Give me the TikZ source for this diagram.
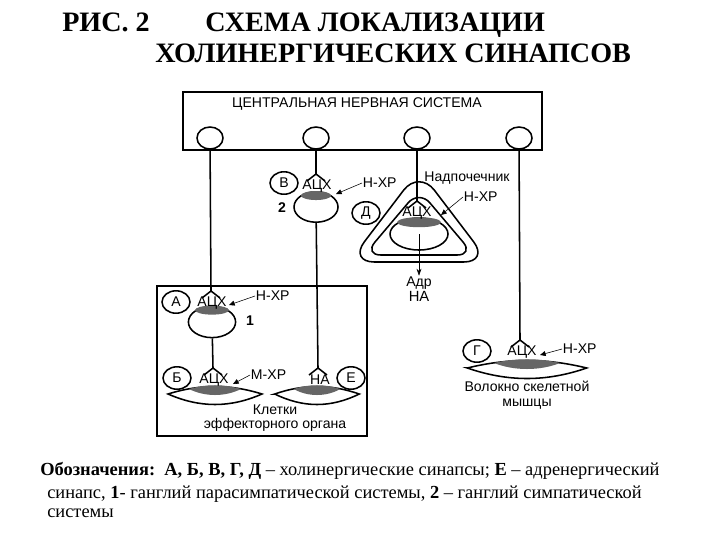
\documentclass[tikz,border=0pt]{standalone}
\usepackage{fontspec}
\setmainfont{Liberation Serif}
\newfontfamily\schemefont{Liberation Sans}
\usetikzlibrary{shapes.geometric,arrows.meta,positioning,calc}

\tikzset{
  title/.style={font=\bfseries\fontsize{20}{22}\selectfont, inner sep=0pt},
  legend/.style={font=\fontsize{13.1}{15}\selectfont, inner sep=0pt},
  txt/.style={font=\schemefont\fontsize{10}{10.3}\selectfont, inner sep=0.5pt},
  neuron/.style={draw, line width=1.1pt, ellipse, minimum width=0.65cm, minimum height=0.55cm, inner sep=0pt, fill=white},
  syncirc/.style={draw, line width=1.1pt, ellipse, minimum width=0.7cm, minimum height=0.56cm, inner sep=0pt, font=\schemefont\fontsize{10}{11}\selectfont},
  ganglion/.style={draw, line width=1.1pt, ellipse, inner sep=0pt, fill=white},
  receptor/.style={-{Triangle[length=4pt,width=3.5pt]}},
  shade/.style={fill=black!60},
  nerve/.style={line width=1.1pt},
  lens/.pic={
    \draw[line width=1.1pt, fill=white] (-47,0) .. controls (-15,-10) and (15,-10) .. (47,0)
      .. controls (15,14) and (-15,14) .. cycle;
    \fill[shade] (-26,-5) .. controls (-10,-10) and (10,-10) .. (26,-5)
      .. controls (10,3) and (-10,3) .. cycle;
  }
}

\begin{document}
\begin{tikzpicture}[x=0.025cm, y=-0.025cm]
\useasboundingbox (0,0) rectangle (720,540);

% Title
\node[title, anchor=base west] (fig) at (62,31) {РИС. 2};
\node[title, anchor=base west] (head1) at (205,31) {СХЕМА ЛОКАЛИЗАЦИИ};
\node[title, anchor=base west] (head2) at (155,62) {ХОЛИНЕРГИЧЕСКИХ СИНАПСОВ};

% Central nervous system
\draw[line width=1.1pt] (183,92) rectangle (542,150);
\node[txt] (cns) at (357,104) {ЦЕНТРАЛЬНАЯ НЕРВНАЯ СИСТЕМА};
\node[neuron] (c1) at (210,138) {};
\node[neuron] (c2) at (316,138) {};
\node[neuron] (c3) at (417,138) {};
\node[neuron] (c4) at (519,138) {};

% Effector organ box
\draw[thick] (157,286) rectangle (367,436);

% Nerve endings
\coordinate (tA) at (211,291);
\coordinate (tB) at (213,368);
\coordinate (tV) at (316,174);
\coordinate (tE) at (318,368);
\coordinate (tD) at (417,201);
\coordinate (tG) at (520,340);

% Ganglia
\node[ganglion, minimum width=1.18cm, minimum height=0.78cm] (g1) at (212,322) {};
\fill[shade] ($(g1.north)+(0,4.5)$) ellipse [x radius=17, y radius=4.5];
\node[ganglion, minimum width=1.1cm, minimum height=0.76cm] (g2) at (316,207) {};
\fill[shade] ($(g2.north)+(0,4.5)$) ellipse [x radius=15, y radius=4.5];
\node[txt, font=\schemefont\bfseries\fontsize{10}{11}\selectfont] (n1) at (250,321) {1};
\node[txt, font=\schemefont\bfseries\fontsize{10}{11}\selectfont] (n2) at (282,208) {2};

% Adrenal gland
\draw[line width=1.1pt, rounded corners=18] (419,170) -- (489,262) -- (349,262) -- cycle;
\draw[line width=1.1pt, rounded corners=12] (419,190) -- (474,255) -- (364,255) -- cycle;
\node[ganglion, minimum width=1.45cm, minimum height=0.8cm] (chrom) at (419,234) {};
\fill[shade] ($(chrom.north)+(0,5)$) ellipse [x radius=22, y radius=5];
\node[txt] (nadp) at (467,178) {Надпочечник};
\node[txt] (adr) at (419,283) {Адр};
\node[txt, font=\schemefont\fontsize{10.5}{11}\selectfont] (na) at (419,296) {НА};
\draw[-{Stealth[length=5pt,width=3.5pt]}] (chrom.center) -- (adr.north);

% Target cells
\coordinate (cellB) at (215,394);
\coordinate (cellE) at (317,394);
\coordinate (fibre) at (527,368);
\pic at (cellB) {lens};
\pic[xscale=0.9] at (cellE) {lens};
\pic[xscale=1.27] at (fibre) {lens};
\node[txt, align=center] (klet) at (275,418) {Клетки\\эффекторного органа};
\node[txt, align=center] (volok) at (527,395) {Волокно скелетной\\мышцы};

% Nerve fibres
\draw[nerve] (c1) -- (tA);
\draw[nerve] (g1) -- (tB);
\draw[nerve] (c2) -- (tV);
\draw[nerve] (g2) -- (tE);
\draw[nerve] (c3) -- (tD);
\draw[nerve] (c4) -- (tG);
\draw[nerve] ($(tA)+(-9,7)$) -- (tA) -- ($(tA)+(9,7)$);
\draw[nerve] ($(tB)+(-9,7)$) -- (tB) -- ($(tB)+(9,7)$);
\draw[nerve] ($(tV)+(-9,7)$) -- (tV) -- ($(tV)+(9,7)$);
\draw[nerve] ($(tE)+(-9,7)$) -- (tE) -- ($(tE)+(9,7)$);
\draw[nerve] ($(tD)+(-9,7)$) -- (tD) -- ($(tD)+(9,7)$);
\draw[nerve] ($(tG)+(-9,7)$) -- (tG) -- ($(tG)+(9,7)$);

% Mediators
\node[txt] (achA) at (212,303) {АЦХ};
\node[txt] (achB) at (214,380) {АЦХ};
\node[txt] (achV) at (317,186) {АЦХ};
\node[txt] (achD) at (417,213) {АЦХ};
\node[txt] (achG) at (522,352) {АЦХ};
\node[txt] (naE) at (320,380) {НА};

% Synapse letters
\node[syncirc] (sA) at (176,302) {А};
\node[syncirc] (sB) at (177,378) {Б};
\node[syncirc] (sV) at (284,183) {В};
\node[syncirc] (sG) at (477,351) {Г};
\node[syncirc] (sD) at (366,213) {Д};
\node[syncirc] (sE) at (351,378) {Е};

% Receptors
\node[txt, anchor=west] (rA) at (255,296) {Н-ХР};
\node[txt, anchor=west] (rB) at (250,375) {М-ХР};
\node[txt, anchor=west] (rV) at (362,183) {Н-ХР};
\node[txt, anchor=west] (rD) at (463,197) {Н-ХР};
\node[txt, anchor=west] (rG) at (562,349) {Н-ХР};
\coordinate (pA) at (229,305);
\coordinate (pB) at (233,384);
\coordinate (pV) at (336,194);
\coordinate (pD) at (441,215);
\coordinate (pG) at (540,355);
\draw[receptor] (rA.west) -- (pA);
\draw[receptor] (rB.west) -- (pB);
\draw[receptor] (rV.west) -- (pV);
\draw[receptor] (rD.west) -- (pD);
\draw[receptor] (rG.west) -- (pG);

% Legend
\node[legend, anchor=base west] (leg1) at (40,475) {\textbf{Обозначения:}\ \ \textbf{А, Б, В, Г, Д} – холинергические синапсы; \textbf{Е} – адренергический};
\node[legend, anchor=base west] (leg2) at (47,498) {синапс, \textbf{1}- ганглий парасимпатической системы, \textbf{2} – ганглий симпатической};
\node[legend, anchor=base west] (leg3) at (47,517) {системы};
\end{tikzpicture}
\end{document}
